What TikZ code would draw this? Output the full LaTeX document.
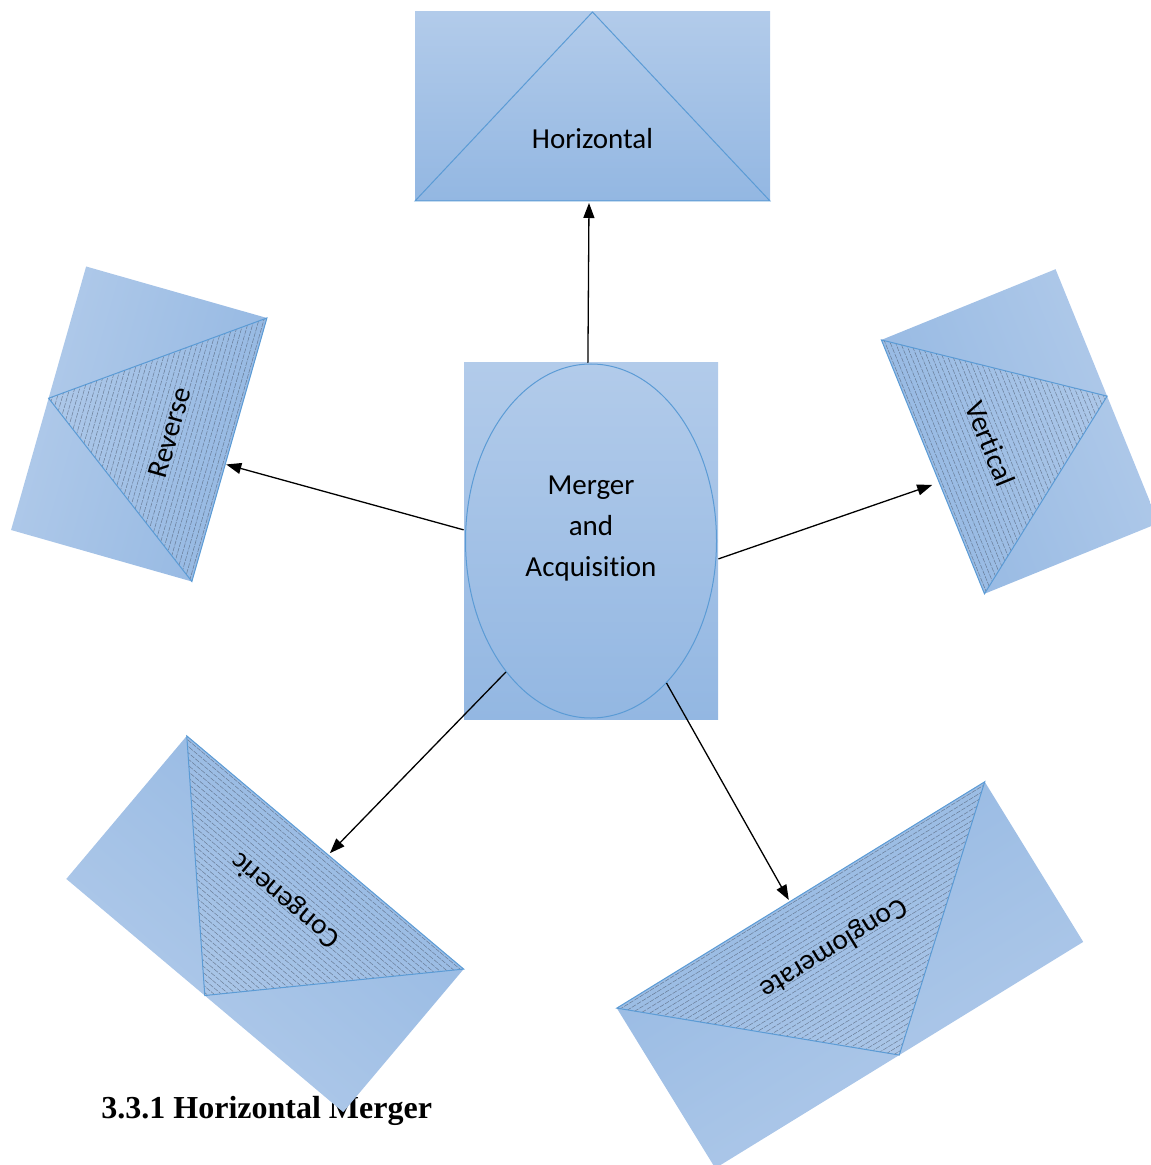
\documentclass[tikz,border=0pt]{standalone}
\usepackage{fontspec}
\setmainfont{Carlito}[Ligatures=NoCommon]
\newfontfamily\headfont{Liberation Serif}
\usetikzlibrary{arrows.meta,shapes.geometric}

\definecolor{fillTop}{RGB}{178,203,234}
\definecolor{fillBot}{RGB}{147,183,226}
\definecolor{edgeBlue}{RGB}{91,155,213}
\definecolor{hatchInk}{RGB}{70,80,98}

\tikzset{
  panel/.style={top color=fillTop, bottom color=fillBot},
  facet/.style={draw=edgeBlue, line width=0.5pt, line join=miter},
  hatchline/.style={draw=hatchInk, line width=0.25pt, dash pattern=on 2.4pt off 0.6pt, opacity=0.6},
  labeltext/.style={font=\fontsize{14.5}{20.5}\selectfont, text=black, inner sep=0pt},
  link/.style={draw=black, line width=0.65pt, -{Triangle[length=7.5pt,width=5.5pt]}},
}

% One category card: a shaded rectangle with a triangle whose apex sits on
% the top edge and whose base is the bottom edge.
% #1 name, #2 centre x, #3 centre y (downwards), #4 rotation, #5 width,
% #6 height, #7 label, #8 hatched triangle (1/0), #9 arrow target (local)
\newcommand\envelopeshape[9]{%
  \begin{scope}[shift={(#2,-#3)}, rotate=#4]
    \path[panel, shading angle=#4] (-#5/2,-#6/2) rectangle (#5/2,#6/2);
    \ifnum#8=1
      \begin{scope}
        \clip (-#5/2,-#6/2) -- (0,#6/2) -- (#5/2,-#6/2) -- cycle;
        \foreach \k in {1,...,40}
          \draw[hatchline] (-#5/2,{-#6/2+4.8*\k-2.4}) -- (#5/2,{-#6/2+4.8*\k-2.4});
      \end{scope}
    \fi
    \draw[facet] (-#5/2,-#6/2) -- (0,#6/2) -- (#5/2,-#6/2) -- cycle;
    \node[labeltext, rotate=#4] (#1) at (0,-32) {#7};
    \coordinate (#1-in) at (#9);
  \end{scope}}

\begin{document}
\begin{tikzpicture}[x=0.5pt, y=0.5pt]
  \useasboundingbox (0,0) rectangle (1150,-1165);

  % section heading (lies underneath the lower-left card)
  \node[font=\headfont\bfseries\fontsize{16}{19}\selectfont, anchor=base west, inner sep=0pt]
    (heading) at (101,-1118) {3.3.1 Horizontal Merger};

  % the five merger types
  \envelopeshape{hz}{592.5}{106.5}{0}{355}{189}{Horizontal}{0}{-3.5,-96.5}
  \envelopeshape{rv}{139}{424}{74.1}{274}{188}{Reverse}{1}{-15,-95}
  \envelopeshape{vt}{1020}{431.5}{-67.9}{274}{188}{Vertical}{1}{16.5,-101.5}
  \envelopeshape{cg}{265}{924}{139.9}{362}{187}{Congeneric}{1}{-4,-96}
  \envelopeshape{cl}{850}{975}{211.6}{432}{188}{Conglomerate}{1}{12.8,-96}

  % central hub
  \node[rectangle, panel, minimum width=127pt, minimum height=178pt, inner sep=0pt]
    (ma-box) at (591,-541) {};
  \node[ellipse, draw=edgeBlue, line width=0.5pt, minimum width=125.5pt,
        minimum height=177pt, inner sep=0pt] (ma) at (591,-541) {};
  \node[labeltext, align=center] (ma-label) at (591,-529) {Merger\\and\\Acquisition};

  % connectors
  \draw[link] (ma-box.91.3) -- (hz-in);
  \draw[link] (ma-box.175.9) -- (rv-in);
  \draw[link] (ma-box.352.8) -- (vt-in);
  \draw[link] (ma.237.5) -- (cg-in);
  \draw[link] (ma.-62) -- (cl-in);
\end{tikzpicture}
\end{document}
